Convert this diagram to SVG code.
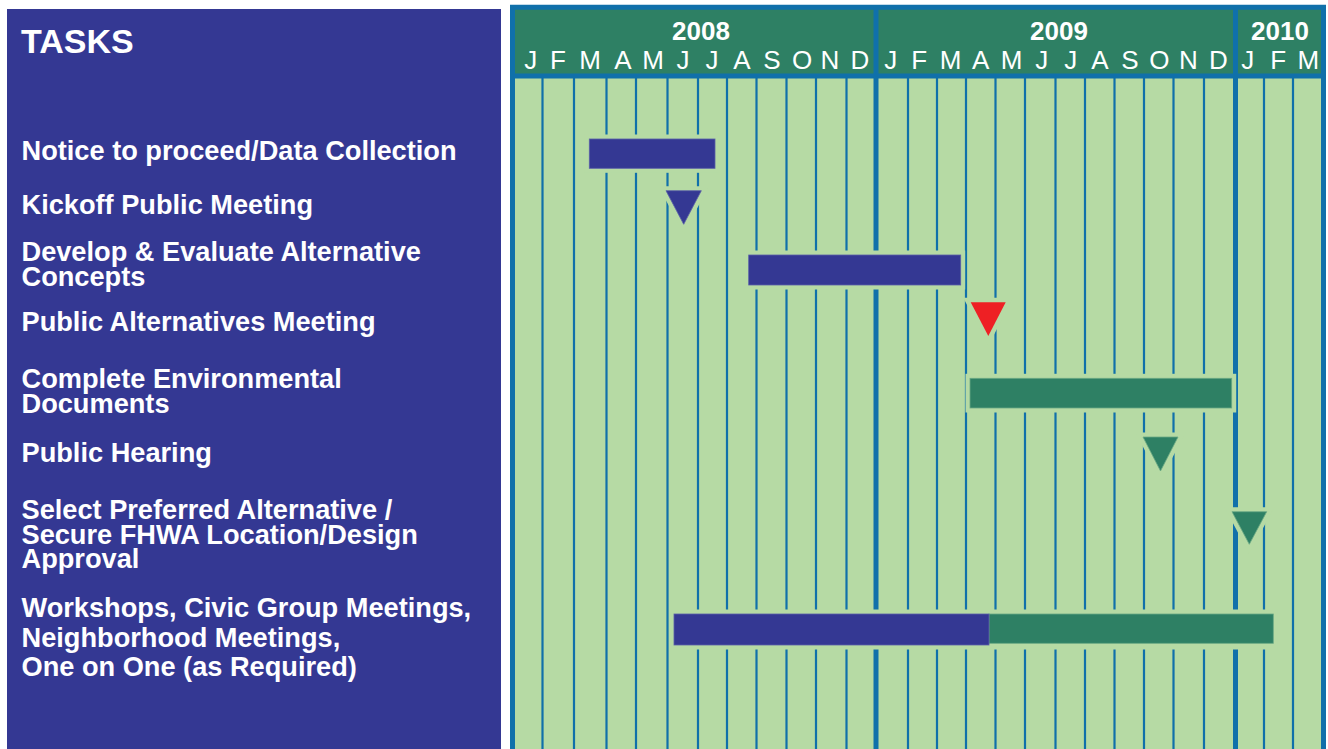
<svg xmlns="http://www.w3.org/2000/svg" width="1328" height="749" viewBox="0 0 1328 749">
<style>
.task{font-family:"Liberation Sans",Arial,Helvetica,sans-serif;font-weight:bold;font-size:27.2px;fill:#ffffff}
.title{font-family:"Liberation Sans",Arial,Helvetica,sans-serif;font-weight:bold;font-size:34px;fill:#ffffff}
.year{font-family:"Liberation Sans",Arial,Helvetica,sans-serif;font-weight:bold;font-size:26px;fill:#ffffff;text-anchor:middle}
.mon{font-family:"Liberation Sans",Arial,Helvetica,sans-serif;font-size:26px;fill:#ffffff;text-anchor:middle}
.grid line{stroke:#1070aa;stroke-width:2.2}
.grid line.yr{stroke:#1070aa;stroke-width:5}
.halo{fill:#b6daa4;stroke:#b6daa4;stroke-width:9}
.blue{fill:#343893;stroke:#5a5fa8;stroke-width:0.8}
.green{fill:#2e8064;stroke:#6aa884;stroke-width:0.8}
.red{fill:#ee2024}
</style>
<rect x="0" y="0" width="1328" height="749" fill="#ffffff"/>
<g id="tasks-panel">
<rect x="7" y="9" width="494" height="740" fill="#343893"/>
<text class="title" x="21" y="53">TASKS</text>
</g>
<g id="chart-bg">
<rect x="513" y="8" width="810" height="741" fill="#b6daa4"/>
<rect x="513" y="8" width="810" height="67" fill="#2e8064"/>
</g>
<g id="grid" class="grid">
<line x1="542.5" y1="78" x2="542.5" y2="749"/>
<line x1="574" y1="78" x2="574" y2="749"/>
<line x1="606.5" y1="78" x2="606.5" y2="749"/>
<line x1="636" y1="78" x2="636" y2="749"/>
<line x1="667.5" y1="78" x2="667.5" y2="749"/>
<line x1="698" y1="78" x2="698" y2="749"/>
<line x1="727" y1="78" x2="727" y2="749"/>
<line x1="756.5" y1="78" x2="756.5" y2="749"/>
<line x1="786.5" y1="78" x2="786.5" y2="749"/>
<line x1="816" y1="78" x2="816" y2="749"/>
<line x1="846.5" y1="78" x2="846.5" y2="749"/>
<line x1="908" y1="78" x2="908" y2="749"/>
<line x1="937" y1="78" x2="937" y2="749"/>
<line x1="966" y1="78" x2="966" y2="749"/>
<line x1="995.5" y1="78" x2="995.5" y2="749"/>
<line x1="1025" y1="78" x2="1025" y2="749"/>
<line x1="1055.5" y1="78" x2="1055.5" y2="749"/>
<line x1="1085" y1="78" x2="1085" y2="749"/>
<line x1="1114.5" y1="78" x2="1114.5" y2="749"/>
<line x1="1144" y1="78" x2="1144" y2="749"/>
<line x1="1173.5" y1="78" x2="1173.5" y2="749"/>
<line x1="1204" y1="78" x2="1204" y2="749"/>
<line x1="1264" y1="78" x2="1264" y2="749"/>
<line x1="1293" y1="78" x2="1293" y2="749"/>
<line class="yr" x1="876" y1="5" x2="876" y2="749"/>
<line class="yr" x1="1235.5" y1="5" x2="1235.5" y2="749"/>
<line class="yr" x1="512.5" y1="5" x2="512.5" y2="749"/>
<line class="yr" x1="1323.5" y1="5" x2="1323.5" y2="749"/>
<line class="yr" x1="510" y1="7.3" x2="1326" y2="7.3"/>
<line class="yr" x1="510" y1="76" x2="1326" y2="76"/>
</g>
<g id="timeline-header">
<text class="year" x="701" y="40">2008</text>
<text class="year" x="1059" y="40">2009</text>
<text class="year" x="1280" y="40">2010</text>
<text class="mon" x="530.7" y="69">J</text>
<text class="mon" x="558" y="69">F</text>
<text class="mon" x="590" y="69">M</text>
<text class="mon" x="623" y="69">A</text>
<text class="mon" x="653" y="69">M</text>
<text class="mon" x="683" y="69">J</text>
<text class="mon" x="712" y="69">J</text>
<text class="mon" x="742" y="69">A</text>
<text class="mon" x="772" y="69">S</text>
<text class="mon" x="802" y="69">O</text>
<text class="mon" x="830" y="69">N</text>
<text class="mon" x="860" y="69">D</text>
<text class="mon" x="890.7" y="69">J</text>
<text class="mon" x="919.3" y="69">F</text>
<text class="mon" x="950.7" y="69">M</text>
<text class="mon" x="980.7" y="69">A</text>
<text class="mon" x="1011.7" y="69">M</text>
<text class="mon" x="1041.7" y="69">J</text>
<text class="mon" x="1070.7" y="69">J</text>
<text class="mon" x="1100" y="69">A</text>
<text class="mon" x="1130" y="69">S</text>
<text class="mon" x="1159.3" y="69">O</text>
<text class="mon" x="1188.3" y="69">N</text>
<text class="mon" x="1218.3" y="69">D</text>
<text class="mon" x="1247.7" y="69">J</text>
<text class="mon" x="1278.3" y="69">F</text>
<text class="mon" x="1308.3" y="69">M</text>
</g>
<g id="task-notice">
<text class="task" x="21.5" y="160">Notice to proceed/Data Collection</text>
<rect class="halo" x="589.3" y="139" width="125.7" height="29.3"/>
<rect class="blue" x="589.3" y="139" width="125.7" height="29.3"/>
</g>
<g id="task-kickoff">
<text class="task" x="21.5" y="214">Kickoff Public Meeting</text>
<polygon class="halo" points="666,190.7 701.3,190.7 683.7,224.3"/>
<polygon class="blue" points="666,190.7 701.3,190.7 683.7,224.3" stroke="none"/>
</g>
<g id="task-develop">
<text class="task" x="21.5" y="261">Develop &amp; Evaluate Alternative</text>
<text class="task" x="21.5" y="285.5">Concepts</text>
<rect class="halo" x="748.7" y="255" width="212" height="30"/>
<rect class="blue" x="748.7" y="255" width="212" height="30"/>
</g>
<g id="task-alt-meeting">
<text class="task" x="21.5" y="331">Public Alternatives Meeting</text>
<polygon class="halo" points="970.7,302.3 1005.7,302.3 988.3,336"/>
<polygon class="red" points="970.7,302.3 1005.7,302.3 988.3,336"/>
</g>
<g id="task-environmental">
<text class="task" x="21.5" y="387.5">Complete Environmental</text>
<text class="task" x="21.5" y="412.5">Documents</text>
<rect class="halo" x="970" y="378.3" width="261.7" height="29.7"/>
<rect class="green" x="970" y="378.3" width="261.7" height="29.7"/>
</g>
<g id="task-hearing">
<text class="task" x="21.5" y="462">Public Hearing</text>
<polygon class="halo" points="1143,437 1178,437 1160.5,471"/>
<polygon class="green" points="1143,437 1178,437 1160.5,471" stroke="none"/>
</g>
<g id="task-select">
<text class="task" x="21.5" y="518.5">Select Preferred Alternative /</text>
<text class="task" x="21.5" y="543.5">Secure FHWA Location/Design</text>
<text class="task" x="21.5" y="567.5">Approval</text>
<polygon class="halo" points="1232,511.7 1266.7,511.7 1249.3,544.3"/>
<polygon class="green" points="1232,511.7 1266.7,511.7 1249.3,544.3" stroke="none"/>
</g>
<g id="task-workshops">
<text class="task" x="21.5" y="617">Workshops, Civic Group Meetings,</text>
<text class="task" x="21.5" y="647">Neighborhood Meetings,</text>
<text class="task" x="21.5" y="675.5">One on One (as Required)</text>
<rect class="halo" x="674" y="614" width="599.3" height="31"/>
<rect class="green" x="989" y="614" width="284.3" height="29.3"/>
<rect class="blue" x="674" y="614" width="315" height="31" stroke="none"/>
</g>
</svg>
